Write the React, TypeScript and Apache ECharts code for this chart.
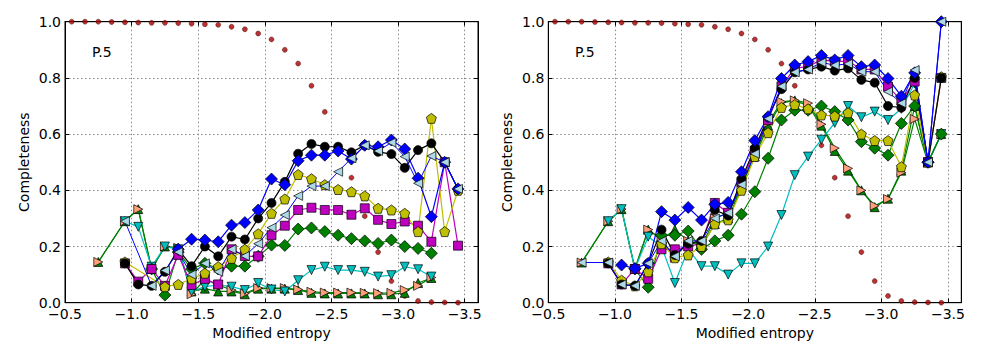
import React, { useEffect, useRef } from 'react';
import * as echarts from 'echarts';

// bin centres (modified entropy)
const BINS = [-0.55, -0.65, -0.75, -0.85, -0.95, -1.05, -1.15, -1.25, -1.35, -1.45, -1.55, -1.65, -1.75, -1.85, -1.95, -2.05, -2.15, -2.25, -2.35, -2.45, -2.55, -2.65, -2.75, -2.85, -2.95, -3.05, -3.15, -3.25, -3.35, -3.45];

const X_TICK_VALUES = [-0.5, -1.0, -1.5, -2.0, -2.5, -3.0, -3.5];
const X_TICK_LABELS = ['\u22120.5', '\u22121.0', '\u22121.5', '\u22122.0', '\u22122.5', '\u22123.0', '\u22123.5'];
const Y_TICK_LABELS = ['0.0', '0.2', '0.4', '0.6', '0.8', '1.0'];
const PANEL_LABEL = 'P.5';
const X_NAME = 'Modified entropy';
const Y_NAME = 'Completeness';

const _ = null;

// shared dotted reference curve
const RED = [1.0, 1.0, 1.0, 0.999, 0.998, 0.997, 0.996, 0.996, 0.995, 0.993, 0.991, 0.989, 0.982, 0.973, 0.958, 0.937, 0.90, 0.851, 0.772, 0.679, 0.56, 0.445, 0.308, 0.18, 0.077, 0.024, 0.006, 0.002, 0.001, 0.0];

// ---------- left panel ----------
const L_BLACK = [_, _, _, _, 0.14, 0.065, 0.06, 0.11, 0.19, 0.13, 0.20, 0.165, 0.235, 0.225, 0.30, 0.355, 0.43, 0.53, 0.565, 0.555, 0.555, 0.535, 0.56, 0.537, 0.529, 0.48, 0.543, 0.567, 0.50, 0.405];
const L_BLUE = [_, _, _, _, _, _, _, _, 0.19, 0.226, 0.223, 0.217, 0.276, 0.285, 0.33, 0.44, 0.42, 0.505, 0.525, 0.525, 0.54, 0.511, 0.56, 0.555, 0.579, 0.547, 0.443, 0.306, 0.50, 0.405];
const L_LIGHTBLUE = [_, _, _, _, 0.29, _, 0.06, 0.115, 0.18, 0.10, 0.14, 0.11, 0.19, 0.166, 0.21, 0.267, 0.312, 0.38, 0.415, 0.415, 0.466, 0.514, 0.56, 0.54, 0.57, 0.52, 0.425, 0.522, 0.50, 0.405];
const L_YELLOW = [_, _, _, _, 0.145, _, _, 0.057, 0.065, 0.085, 0.105, 0.128, 0.158, 0.19, 0.245, 0.318, 0.369, 0.456, 0.441, 0.42, 0.403, 0.395, 0.38, 0.336, 0.33, 0.318, 0.253, 0.656, 0.253, 0.40];
const L_MAGENTA = [_, _, _, _, 0.14, 0.075, 0.12, 0.06, 0.17, 0.063, 0.085, 0.065, 0.19, 0.166, 0.165, 0.24, 0.274, 0.33, 0.338, 0.33, 0.33, 0.313, 0.336, 0.295, 0.28, 0.289, 0.274, 0.217, 0.50, 0.203];
const L_GREEN_D = [_, _, _, _, _, _, 0.12, 0.027, 0.18, 0.12, 0.14, 0.12, 0.13, 0.13, 0.165, 0.205, 0.204, 0.262, 0.266, 0.253, 0.24, 0.228, 0.22, 0.211, 0.223, 0.20, 0.193, 0.176, _, _];
const L_CYAN = [_, _, _, _, 0.29, 0.27, 0.128, 0.20, 0.19, 0.04, 0.057, 0.063, 0.057, 0.045, 0.07, 0.047, 0.04, 0.08, 0.116, 0.128, 0.116, 0.116, 0.11, 0.093, 0.098, 0.128, 0.119, 0.093, _, _];
const L_SALMON = [_, _, 0.145, _, 0.29, 0.333, 0.12, 0.20, 0.195, 0.03, 0.083, 0.063, 0.045, 0.033, 0.052, 0.052, 0.052, 0.047, 0.039, 0.036, 0.036, 0.036, 0.035, 0.034, 0.035, 0.045, 0.06, 0.09, _, _];
const L_GREEN_T = [_, _, 0.145, _, 0.29, 0.333, 0.12, 0.20, 0.195, 0.04, 0.05, 0.04, 0.04, 0.03, 0.05, 0.05, 0.05, 0.045, 0.035, 0.033, 0.033, 0.033, 0.033, 0.03, 0.03, 0.035, 0.07, 0.088, _, _];

// ---------- right panel ----------
const R_BLACK = [_, _, _, _, 0.14, 0.065, 0.06, 0.14, 0.26, 0.17, 0.21, 0.22, 0.33, 0.31, 0.44, 0.55, 0.66, 0.76, 0.82, 0.83, 0.84, 0.826, 0.834, 0.793, 0.783, 0.70, 0.694, 0.80, 0.50, 0.80];
const R_BLUE = [_, _, _, _, _, 0.134, 0.122, 0.14, 0.324, 0.294, 0.339, 0.294, 0.35, 0.357, 0.466, 0.577, 0.662, 0.798, 0.846, 0.858, 0.88, 0.864, 0.88, 0.84, 0.846, 0.798, 0.735, 0.818, 0.50, 1.0];
const R_MAGENTA = [_, _, _, _, 0.14, 0.065, 0.12, 0.085, 0.19, 0.19, 0.20, 0.21, 0.355, 0.32, 0.43, 0.54, 0.65, 0.77, 0.835, 0.84, 0.865, 0.858, 0.86, 0.83, 0.83, 0.769, 0.72, 0.787, 0.50, 0.80];
const R_LIGHTBLUE = [_, _, 0.143, _, 0.143, 0.065, 0.06, 0.14, 0.22, 0.165, 0.22, 0.22, 0.30, 0.32, 0.42, 0.53, 0.655, 0.77, 0.82, 0.83, 0.855, 0.845, 0.85, 0.822, 0.822, 0.751, 0.71, 0.828, 0.50, 1.0];
const R_YELLOW = [_, _, _, _, 0.145, 0.08, 0.06, 0.11, 0.21, 0.16, 0.17, 0.20, 0.28, 0.295, 0.40, 0.52, 0.605, 0.695, 0.705, 0.69, 0.668, 0.664, 0.676, 0.60, 0.577, 0.577, 0.484, 0.739, 0.50, 0.804];
const R_GREEN_D = [_, _, _, _, _, _, 0.12, 0.055, 0.24, 0.24, 0.255, 0.19, 0.22, 0.24, 0.315, 0.395, 0.514, 0.65, 0.685, 0.685, 0.70, 0.68, 0.65, 0.573, 0.55, 0.525, 0.638, 0.70, 0.50, 0.60];
const R_CYAN = [_, _, _, _, 0.29, 0.333, 0.12, 0.235, 0.20, 0.07, 0.19, 0.13, 0.13, 0.10, 0.14, 0.14, 0.20, 0.312, 0.454, 0.52, 0.58, 0.64, 0.70, 0.66, 0.68, 0.65, 0.69, 0.78, 0.50, 0.60];
const R_SALMON = [_, _, 0.143, _, 0.29, 0.333, 0.12, 0.26, 0.225, 0.16, 0.22, 0.20, 0.30, 0.32, 0.41, 0.53, 0.64, 0.715, 0.72, 0.71, 0.635, 0.55, 0.478, 0.40, 0.345, 0.369, 0.463, 0.654, 0.498, 0.60];
const R_GREEN_T = [_, _, 0.143, _, 0.29, 0.333, 0.12, 0.26, 0.225, 0.26, 0.22, 0.20, 0.28, 0.30, 0.41, 0.52, 0.63, 0.71, 0.72, 0.70, 0.63, 0.54, 0.47, 0.40, 0.34, 0.37, 0.47, 0.70, 0.50, 0.60];

const SYM = {
  down: 'path://M-1,-0.8 L1,-0.8 L0,1 Z',
  up: 'path://M-1,0.8 L1,0.8 L0,-1 Z',
  left: 'path://M0.8,-1 L0.8,1 L-1,0 Z',
  right: 'path://M-0.8,-1 L-0.8,1 L1,0 Z',
  pent: 'path://M0,-1 L0.951,-0.309 L0.588,0.809 L-0.588,0.809 L-0.951,-0.309 Z',
};

const FONT = 'DejaVu Sans';

function pairs(vals: (number | null)[]) {
  const out: [number, number][] = [];
  vals.forEach((v, i) => {
    if (v !== null) out.push([BINS[i], v]);
  });
  return out;
}

function lineSeries(idx: number, vals: (number | null)[], symbol: string, size: number | number[], fill: string, line: string, lw = 1.2) {
  return {
    type: 'line',
    xAxisIndex: idx * 2,
    yAxisIndex: idx * 2,
    data: pairs(vals),
    symbol,
    symbolSize: size,
    showSymbol: true,
    connectNulls: true,
    lineStyle: { color: line, width: lw },
    itemStyle: { color: fill, borderColor: '#000', borderWidth: 0.7 },
    emphasis: { disabled: true },
    silent: true,
  };
}

function panelSeries(idx: number, d: any) {
  return [
    {
      type: 'scatter',
      xAxisIndex: idx * 2,
      yAxisIndex: idx * 2,
      data: pairs(RED),
      symbol: 'circle',
      symbolSize: 5,
      itemStyle: { color: '#a80000', borderColor: '#300000', borderWidth: 0.5 },
      silent: true,
    },
    lineSeries(idx, d.greenT, SYM.up, 9, '#008000', '#008000'),
    lineSeries(idx, d.salmon, SYM.right, 9, '#ffa07a', '#008000'),
    lineSeries(idx, d.cyan, SYM.down, 9, '#00bfbf', '#00bfbf'),
    lineSeries(idx, d.greenD, 'diamond', 12, '#008000', '#008000'),
    lineSeries(idx, d.magenta, 'rect', 9, '#bf00bf', '#bf00bf'),
    lineSeries(idx, d.yellow, SYM.pent, 10, '#bfbf00', '#bfbf00'),
    lineSeries(idx, d.black, 'circle', 9, '#000000', '#000000'),
    lineSeries(idx, d.blue, 'diamond', 12, '#0000ff', '#0000ff'),
    lineSeries(idx, d.lightblue, SYM.left, 9, '#add8e6', '#0000ff', 1),
  ];
}

function xFmt(v: number) {
  const i = X_TICK_VALUES.findIndex((t) => Math.abs(t - v) < 1e-6);
  return i >= 0 ? X_TICK_LABELS[i] : '';
}
function yFmt(v: number) {
  const i = Math.round(v / 0.2);
  return Math.abs(v - i * 0.2) < 1e-6 ? Y_TICK_LABELS[i] : '';
}

const GRID_LEFT = [65, 548.3];
const GRID_W = 413;

export default function App() {
  const ref = useRef<HTMLDivElement>(null);
  useEffect(() => {
    if (!ref.current) return;
    const chart = echarts.init(ref.current, undefined, { renderer: 'svg' });
    const grids = GRID_LEFT.map((l) => ({
      left: l,
      top: 21.7,
      width: GRID_W,
      height: 281,
      show: true,
      borderColor: '#000',
      borderWidth: 1,
      backgroundColor: 'transparent',
    }));
    const xAxes: any[] = [];
    const yAxes: any[] = [];
    [0, 1].forEach((g) => {
      xAxes.push({
        type: 'value',
        gridIndex: g,
        min: -3.6,
        max: -0.5,
        inverse: true,
        minInterval: 0.5,
        maxInterval: 0.5,
        position: 'bottom',
        name: X_NAME,
        nameLocation: 'middle',
        nameGap: 21,
        nameTextStyle: { fontFamily: FONT, fontSize: 14, color: '#000' },
        axisLine: { show: true, onZero: false, lineStyle: { color: '#000', width: 1 } },
        axisTick: { show: true, inside: true, length: 4, lineStyle: { color: '#000' } },
        axisLabel: { formatter: xFmt, fontFamily: FONT, fontSize: 14, color: '#000', margin: 4 },
        splitLine: { show: true, lineStyle: { color: '#8a8a8a', type: [1.5, 2.5], width: 1 } },
      });
      xAxes.push({
        type: 'value',
        gridIndex: g,
        min: -3.6,
        max: -0.5,
        inverse: true,
        minInterval: 0.5,
        maxInterval: 0.5,
        position: 'top',
        axisLine: { show: true, onZero: false, lineStyle: { color: '#000', width: 1 } },
        axisTick: { show: true, inside: true, length: 4, lineStyle: { color: '#000' } },
        axisLabel: { show: false },
        splitLine: { show: false },
      });
      yAxes.push({
        type: 'value',
        gridIndex: g,
        min: 0,
        max: 1,
        interval: 0.2,
        position: 'left',
        name: Y_NAME,
        nameLocation: 'middle',
        nameGap: 34,
        nameTextStyle: { fontFamily: FONT, fontSize: 14, color: '#000' },
        axisLine: { show: true, onZero: false, lineStyle: { color: '#000', width: 1 } },
        axisTick: { show: true, inside: true, length: 4, lineStyle: { color: '#000' } },
        axisLabel: { formatter: yFmt, fontFamily: FONT, fontSize: 14, color: '#000', margin: 4 },
        splitLine: { show: true, lineStyle: { color: '#8a8a8a', type: [1.5, 2.5], width: 1 } },
      });
      yAxes.push({
        type: 'value',
        gridIndex: g,
        min: 0,
        max: 1,
        interval: 0.2,
        position: 'right',
        axisLine: { show: true, onZero: false, lineStyle: { color: '#000', width: 1 } },
        axisTick: { show: true, inside: true, length: 4, lineStyle: { color: '#000' } },
        axisLabel: { show: false },
        splitLine: { show: false },
      });
    });

    const left = {
      black: L_BLACK, blue: L_BLUE, lightblue: L_LIGHTBLUE, yellow: L_YELLOW, magenta: L_MAGENTA,
      greenD: L_GREEN_D, cyan: L_CYAN, salmon: L_SALMON, greenT: L_GREEN_T,
    };
    const right = {
      black: R_BLACK, blue: R_BLUE, lightblue: R_LIGHTBLUE, yellow: R_YELLOW, magenta: R_MAGENTA,
      greenD: R_GREEN_D, cyan: R_CYAN, salmon: R_SALMON, greenT: R_GREEN_T,
    };

    chart.setOption({
      animation: false,
      backgroundColor: '#fff',
      grid: grids,
      xAxis: xAxes,
      yAxis: yAxes,
      series: [...panelSeries(0, left), ...panelSeries(1, right)],
      graphic: [
        { type: 'text', left: 92, top: 45, style: { text: PANEL_LABEL, fontFamily: FONT, fontSize: 14, fill: '#000' } },
        { type: 'text', left: 575, top: 45, style: { text: PANEL_LABEL, fontFamily: FONT, fontSize: 14, fill: '#000' } },
      ],
    });
    return () => chart.dispose();
  }, []);
  return <div ref={ref} style={{ position: 'fixed', left: 0, top: 0, width: 983, height: 357, background: '#fff' }} />;
}
